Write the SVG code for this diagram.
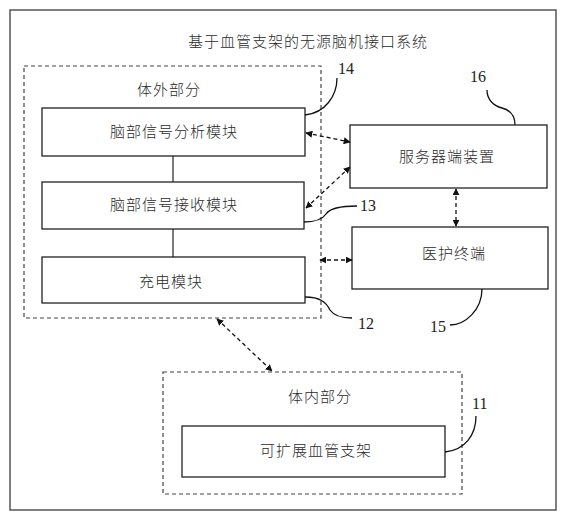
<svg xmlns="http://www.w3.org/2000/svg" width="567" height="519" viewBox="0 0 567 519">
<defs>
<style>
.cjk{font-family:"Noto Sans CJK SC","Noto Sans",sans-serif;font-size:15px;font-weight:300;letter-spacing:1px;fill:#2a2a2a;text-anchor:middle}
.num{font-family:"Liberation Serif",serif;font-size:16px;fill:#222}
.box{fill:#fff;stroke:#222;stroke-width:1.3}
.dash{fill:none;stroke:#444;stroke-width:1.2;stroke-dasharray:4 3}
.link{fill:none;stroke:#111;stroke-width:1.3;stroke-dasharray:4 3}
.solid{fill:none;stroke:#222;stroke-width:1.2}
.lead{fill:none;stroke:#111;stroke-width:1.3}
</style>
<marker id="ah" viewBox="0 0 10 10" refX="9" refY="5" markerWidth="7" markerHeight="7" orient="auto-start-reverse" markerUnits="userSpaceOnUse">
<path d="M0,0 L10,5 L0,10 z" fill="#111"/>
</marker>
</defs>
<rect width="567" height="519" fill="#fff"/>
<rect x="10" y="10" width="546" height="500" fill="none" stroke="#555" stroke-width="1.5"/>
<text class="cjk" x="308" y="47">基于血管支架的无源脑机接口系统</text>

<g id="external">
<rect class="dash" x="24" y="66" width="297" height="252"/>
<text class="cjk" x="169" y="95">体外部分</text>
</g>
<g id="analysis">
<rect class="box" x="42" y="108" width="263" height="48"/>
<text class="cjk" x="174" y="137">脑部信号分析模块</text>
</g>
<g id="receive">
<rect class="box" x="42" y="182" width="262" height="47"/>
<text class="cjk" x="174" y="210">脑部信号接收模块</text>
</g>
<g id="charge">
<rect class="box" x="42" y="257" width="263" height="46"/>
<text class="cjk" x="171" y="287">充电模块</text>
</g>
<g id="server">
<rect class="box" x="350" y="125" width="197" height="63"/>
<text class="cjk" x="447" y="162">服务器端装置</text>
</g>
<g id="medical">
<rect class="box" x="352" y="227" width="196" height="62"/>
<text class="cjk" x="454" y="259">医护终端</text>
</g>
<g id="internal">
<rect class="dash" x="163" y="372" width="299" height="122"/>
<text class="cjk" x="320" y="402">体内部分</text>
</g>
<g id="stent">
<rect class="box" x="182" y="426" width="263" height="51"/>
<text class="cjk" x="316" y="456">可扩展血管支架</text>
</g>

<g id="connectors">
<line class="solid" x1="173" y1="156" x2="173" y2="182"/>
<line class="solid" x1="173" y1="229" x2="173" y2="257"/>
<line class="link" x1="306" y1="133" x2="350" y2="142" marker-start="url(#ah)" marker-end="url(#ah)"/>
<line class="link" x1="306" y1="208" x2="350" y2="167" marker-start="url(#ah)" marker-end="url(#ah)"/>
<line class="link" x1="456" y1="189" x2="456" y2="226" marker-start="url(#ah)" marker-end="url(#ah)"/>
<line class="link" x1="320" y1="260" x2="352" y2="260" marker-start="url(#ah)" marker-end="url(#ah)"/>
<line class="link" x1="217" y1="319" x2="272" y2="371" marker-start="url(#ah)" marker-end="url(#ah)"/>
</g>

<g id="callouts">
<path class="lead" d="M305,115 C325,113 337,96 337,78"/>
<text class="num" x="338" y="74">14</text>
<path class="lead" d="M487,90 C487,100 494,106 502,108 C510,110 515,116 515,125"/>
<text class="num" x="470" y="82">16</text>
<path class="lead" d="M304,222 C315,222 322,220 326,214 C330,208 340,206 357,206"/>
<text class="num" x="360" y="211">13</text>
<path class="lead" d="M305,297 C320,297 326,302 330,310 C334,316 342,318 352,318"/>
<text class="num" x="358" y="329">12</text>
<path class="lead" d="M482,289 C482,310 465,325 450,325"/>
<text class="num" x="430" y="332">15</text>
<path class="lead" d="M445,452 C465,450 476,435 476,416"/>
<text class="num" x="472" y="409">11</text>
</g>
</svg>
